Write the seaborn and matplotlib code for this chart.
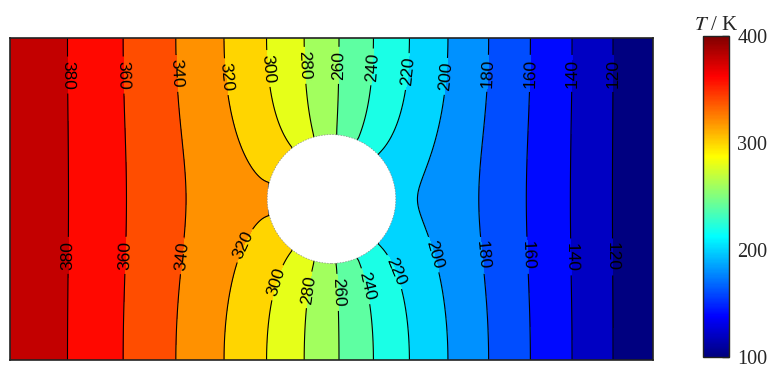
import numpy as np
import matplotlib
matplotlib.use("Agg")
import matplotlib.pyplot as plt
import seaborn as sns
from matplotlib.patches import Circle
from matplotlib.colors import Normalize, LinearSegmentedColormap
from matplotlib.cm import ScalarMappable

# Plate with a central circular hole: left edge held hot, right edge cold,
# top/bottom edges and hole surface insulated, conductivity linear in T.
PLATE_HALF_WIDTH = 2.0
PLATE_HALF_HEIGHT = 1.0
HOLE_RADIUS = 0.4
T_LEFT = 400.0
T_RIGHT = 100.0
K_COLD_HOT = [1.0, 1.48]          # relative conductivity at T_RIGHT and T_LEFT

levels = list(range(100, 401, 20))
line_levels = list(range(120, 381, 20))
cbar_ticks = [100, 200, 300, 400]
cbar_minor = [150, 250, 350]

# label anchor points (x, y) along the isotherms
label_top = [(-1.64, 0.77), (-1.29, 0.77), (-0.96, 0.78), (-0.65, 0.76),
             (-0.40, 0.81), (-0.17, 0.83), (0.05, 0.83), (0.26, 0.82),
             (0.49, 0.79), (0.73, 0.76), (0.99, 0.78), (1.24, 0.78),
             (1.50, 0.78), (1.75, 0.78)]
label_bot = [(-1.64, -0.35), (-1.29, -0.35), (-0.96, -0.35), (-0.54, -0.29),
             (-0.40, -0.50), (-0.17, -0.56), (0.04, -0.58), (0.22, -0.54),
             (0.40, -0.45), (0.62, -0.35), (0.94, -0.35), (1.21, -0.35),
             (1.48, -0.36), (1.74, -0.36)]

# ---- steady conduction solve (Kirchhoff-transformed Laplace equation) ----
h = 0.01
x = np.arange(-PLATE_HALF_WIDTH, PLATE_HALF_WIDTH + h / 2, h)
y = np.arange(-PLATE_HALF_HEIGHT, PLATE_HALF_HEIGHT + h / 2, h)
X, Y = np.meshgrid(x, y)
solid = X ** 2 + Y ** 2 < HOLE_RADIUS ** 2
fluid = ~solid

F = np.pad(fluid, 1).astype(float)
cnt = F[:-2, 1:-1] + F[2:, 1:-1] + F[1:-1, :-2] + F[1:-1, 2:]
cnt = np.maximum(cnt, 1.0)

phi = (PLATE_HALF_WIDTH - X) / (2 * PLATE_HALF_WIDTH)
free = fluid.copy()
free[:, 0] = False
free[:, -1] = False
ii, jj = np.indices(phi.shape)
red = free & ((ii + jj) % 2 == 0)
black = free & ((ii + jj) % 2 == 1)
omega = 1.97
for _ in range(1500):
    for m in (red, black):
        P = np.pad(phi * fluid, 1)
        S = P[:-2, 1:-1] + P[2:, 1:-1] + P[1:-1, :-2] + P[1:-1, 2:]
        phi = np.where(m, phi + omega * (S / cnt - phi), phi)

# smooth harmonic extension inside the hole (hidden under the white disc)
sred = solid & ((ii + jj) % 2 == 0)
sblack = solid & ((ii + jj) % 2 == 1)
for _ in range(400):
    for m in (sred, sblack):
        P = np.pad(phi, 1, mode="edge")
        S = P[:-2, 1:-1] + P[2:, 1:-1] + P[1:-1, :-2] + P[1:-1, 2:]
        phi = np.where(m, phi + 1.9 * (S / 4 - phi), phi)

k1, k2 = K_COLD_HOT
dT = T_LEFT - T_RIGHT
c2 = (k2 - k1) / (2 * dT)
U = phi * dT * (k1 + k2) / 2
T = T_RIGHT + (-k1 + np.sqrt(k1 ** 2 + 4 * c2 * U)) / (2 * c2)

# ---- figure ----
sns.set_theme(style="white")
plt.rcParams["mathtext.fontset"] = "stix"

# classic jet ramp (dark blue -> blue -> cyan -> yellow -> red -> dark red)
cmap = LinearSegmentedColormap.from_list(
    "jet_classic",
    [(0.0, (0, 0, 0.5)), (1 / 8, (0, 0, 1)), (3 / 8, (0, 1, 1)),
     (5 / 8, (1, 1, 0)), (7 / 8, (1, 0, 0)), (1.0, (0.5, 0, 0))], N=256)
norm = Normalize(100, 400)
band_colors = [cmap(norm(v)) for v in levels[:-1]]   # each band takes its lower level

fig = plt.figure(figsize=(7.74, 3.68), dpi=100)
ax = fig.add_axes([10 / 774, 8 / 368, 643 / 774, 322 / 368])

ax.contourf(X, Y, T, levels=levels, colors=band_colors)
cs = ax.contour(X, Y, T, levels=line_levels, colors="black", linewidths=0.8)
ax.add_patch(Circle((0, 0), HOLE_RADIUS, facecolor="white", edgecolor="#8a8a8a",
                    linewidth=0.5, linestyle=(0, (2, 2)), zorder=3))
lbls = ax.clabel(cs, manual=label_top + label_bot, inline=True, inline_spacing=2,
                 fmt="%d", fontsize=12.5, colors="black")
for t in lbls:
    t.set_fontfamily("Liberation Sans")
    t.set_zorder(5)

ax.set_xlim(-PLATE_HALF_WIDTH, PLATE_HALF_WIDTH)
ax.set_ylim(-PLATE_HALF_HEIGHT, PLATE_HALF_HEIGHT)
ax.set_xticks([])
ax.set_yticks([])
for s in ax.spines.values():
    s.set_color("#222222")
    s.set_linewidth(1.2)

# colour bar
cax = fig.add_axes([703 / 774, 11 / 368, 26 / 774, 321 / 368])
sm = ScalarMappable(norm=norm, cmap=cmap)
cb = fig.colorbar(sm, cax=cax)
cb.set_ticks(cbar_ticks)
cb.set_ticks(cbar_minor, minor=True)
cb.outline.set_edgecolor("#222222")
cb.outline.set_linewidth(1.0)
cax.tick_params(which="both", direction="in", right=True, left=False,
                color="#222222", width=1.0, pad=6, labelsize=14.5)
cax.tick_params(which="major", length=5)
cax.tick_params(which="minor", length=4)
for t in cax.get_yticklabels():
    t.set_fontfamily("Liberation Serif")
cax.set_title(r"$T$ / K", fontsize=15, family="Liberation Serif", pad=4)

fig.savefig("out.png", dpi=100)
